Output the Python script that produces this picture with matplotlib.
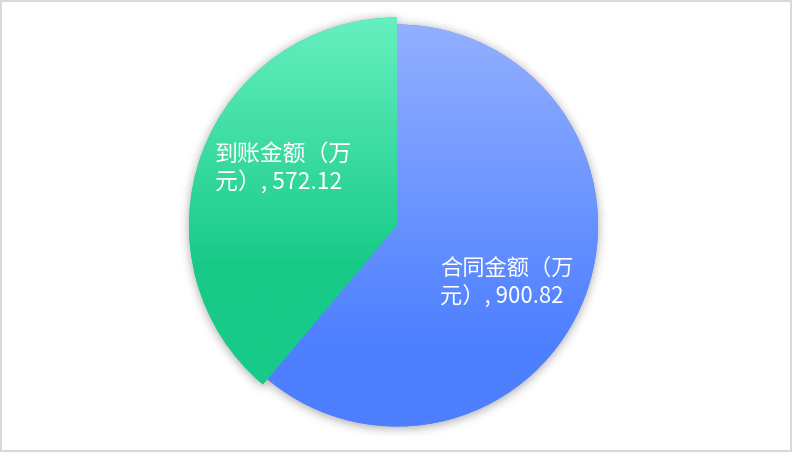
import numpy as np
import matplotlib
matplotlib.use('Agg')
import matplotlib.pyplot as plt
from matplotlib.patches import Rectangle
from matplotlib.colors import to_rgb

plt.rcParams['font.family'] = ['Noto Sans CJK SC', 'DejaVu Sans']

# data
names = ['合同金额（万元）', '到账金额（万元）']
amounts = [900.82, 572.12]

# style
top_colors = ['#93b0ff', '#66f0c0']
bottom_colors = ['#4d7fff', '#18ca88']
radii = [201, 208]
W, H = 794, 465
cx, cy = 397, 225.5          # pie centre, image pixels (y down)

fig = plt.figure(figsize=(W / 100, H / 100), dpi=100)
ax = fig.add_axes([0, 0, 1, 1])

wedges, _ = ax.pie(amounts, center=(cx, H - cy), radius=radii[0], startangle=90,
                   counterclock=False, frame=True,
                   wedgeprops=dict(fc='none', ec='none', lw=0))
for w, r in zip(wedges, radii):
    w.set_radius(r)

ax.set_xlim(0, W)
ax.set_ylim(0, H)
ax.set_aspect('auto')
ax.axis('off')

# soft shadow under the pie
xs = np.arange(W) + 0.5
ys = np.arange(H) + 0.5
X, Y = np.meshgrid(xs, ys)
dx = X - cx
dy = cy - (Y - 2)
rr = np.hypot(dx, dy)
ang = np.degrees(np.arctan2(dy, dx))
mask = np.zeros((H, W))
for w, r in zip(wedges, radii):
    t1, t2 = w.theta1, w.theta2
    inside = ((ang - t1) % 360) <= ((t2 - t1) % 360 or 360)
    mask[inside & (rr <= r)] = 1.0
sig = 5
k = np.arange(-3 * sig, 3 * sig + 1)
g = np.exp(-k ** 2 / (2 * sig ** 2))
g /= g.sum()
blur = np.apply_along_axis(lambda v: np.convolve(v, g, mode='same'), 1, mask)
blur = np.apply_along_axis(lambda v: np.convolve(v, g, mode='same'), 0, blur)
shadow = np.zeros((H, W, 4))
shadow[..., 3] = blur * 0.35
ax.imshow(shadow, extent=(0, W, 0, H), origin='upper', aspect='auto', zorder=0)

# gradient fills clipped to each slice
grad_span = [(24, 345), (17, 265)]
for w, c0, c1, (y0, y1) in zip(wedges, top_colors, bottom_colors, grad_span):
    base = plt.matplotlib.patches.Wedge(w.center, w.r, w.theta1, w.theta2,
                                        fc=c1, ec='none', zorder=1)
    ax.add_patch(base)
    t = np.clip((ys - y0) / (y1 - y0), 0, 1)[:, None]
    col = np.array(to_rgb(c0)) * (1 - t) + np.array(to_rgb(c1)) * t
    img = ax.imshow(col[:, None, :], extent=(0, W, 0, H), origin='upper',
                    aspect='auto', interpolation='bilinear', zorder=2)
    img.set_clip_path(w)

# labels
label_pos = [(440, 282.5), (215, 169)]
label_size = [16, 16.5]
for n, v, (lx, ly), fs in zip(names, amounts, label_pos, label_size):
    s = f'{n}, {v:.2f}'
    s = s[:6] + '\n' + s[6:]
    ax.text(lx, H - ly, s, ha='left', va='center', ma='left', fontsize=fs,
            color='white', linespacing=1.25, zorder=5)

# outer frame
ax.add_patch(Rectangle((1, H - 451), 790, 450, fill=False, ec='#d9d9d9',
                       lw=1.5, zorder=6))

fig.savefig('out.png', dpi=100)
